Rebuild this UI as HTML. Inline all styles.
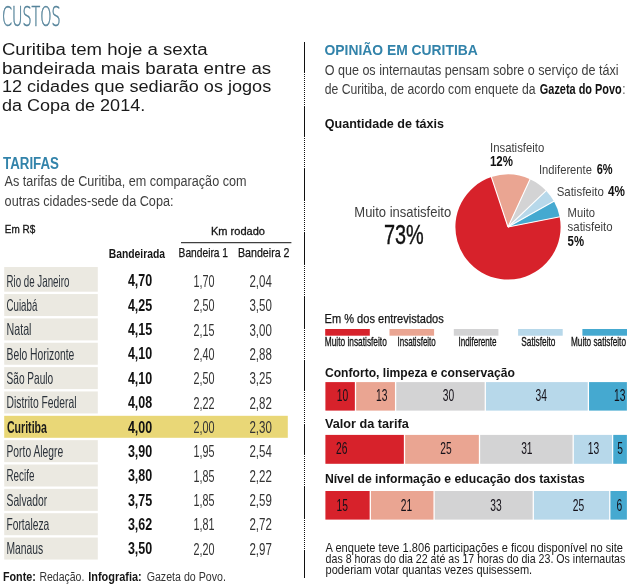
<!DOCTYPE html>
<html lang="pt-BR"><head><meta charset="utf-8"><title>Custos</title>
<style>
html,body{margin:0;padding:0;background:#fff;}
body{width:630px;height:586px;overflow:hidden;font-family:"Liberation Sans",sans-serif;}
svg{display:block;}
svg text{font-family:"Liberation Sans",sans-serif;white-space:pre;}
</style></head><body>
<svg width="630" height="586" viewBox="0 0 630 586">
<rect x="0" y="0" width="630" height="586" fill="#ffffff"/>
<text x="1.9" y="25.6" font-size="26.9" font-weight="200" fill="#55839a" stroke="#55839a" stroke-width="0.6" style="font-family:&quot;DejaVu Sans Light&quot;,&quot;DejaVu Sans&quot;,&quot;Liberation Sans&quot;,sans-serif" textLength="58.8" lengthAdjust="spacingAndGlyphs">CUSTOS</text>
<text x="1.90" y="55.00" font-size="16" font-weight="400" fill="#1a1a1a" textLength="205.60" lengthAdjust="spacingAndGlyphs">Curitiba tem hoje a sexta</text>
<text x="1.90" y="73.60" font-size="16" font-weight="400" fill="#1a1a1a" textLength="269.30" lengthAdjust="spacingAndGlyphs">bandeirada mais barata entre as</text>
<text x="1.90" y="92.20" font-size="16" font-weight="400" fill="#1a1a1a" textLength="269.30" lengthAdjust="spacingAndGlyphs">12 cidades que sediarão os jogos</text>
<text x="1.90" y="110.80" font-size="16" font-weight="400" fill="#1a1a1a" textLength="143.30" lengthAdjust="spacingAndGlyphs">da Copa de 2014.</text>
<line x1="304.5" y1="42" x2="304.5" y2="578" stroke="#111" stroke-width="1" stroke-dasharray="1 1"/>
<rect x="304.00" y="42.00" width="1.00" height="31.00" fill="#111"/>
<rect x="304.00" y="106.00" width="1.00" height="31.00" fill="#111"/>
<rect x="304.00" y="169.00" width="1.00" height="31.00" fill="#111"/>
<rect x="304.00" y="233.00" width="1.00" height="31.00" fill="#111"/>
<rect x="304.00" y="296.00" width="1.00" height="32.00" fill="#111"/>
<rect x="304.00" y="360.00" width="1.00" height="31.00" fill="#111"/>
<rect x="304.00" y="424.00" width="1.00" height="31.00" fill="#111"/>
<rect x="304.00" y="487.00" width="1.00" height="31.00" fill="#111"/>
<rect x="304.00" y="551.00" width="1.00" height="27.00" fill="#111"/>
<text x="3.00" y="169.00" font-size="15.6" font-weight="700" fill="#3283aa" textLength="56.00" lengthAdjust="spacingAndGlyphs">TARIFAS</text>
<text x="4.60" y="186.10" font-size="14" font-weight="400" fill="#3e3e3e" textLength="241.90" lengthAdjust="spacingAndGlyphs">As tarifas de Curitiba, em comparação com</text>
<text x="4.60" y="205.60" font-size="14" font-weight="400" fill="#3e3e3e" textLength="168.90" lengthAdjust="spacingAndGlyphs">outras cidades-sede da Copa:</text>
<text x="4.80" y="233.00" font-size="10.8" font-weight="400" fill="#151515" textLength="30.40" lengthAdjust="spacingAndGlyphs" stroke="#151515" stroke-width="0.3">Em R$</text>
<text x="211.00" y="234.60" font-size="10.8" font-weight="400" fill="#151515" textLength="54.00" lengthAdjust="spacingAndGlyphs" stroke="#151515" stroke-width="0.3">Km rodado</text>
<rect x="181.00" y="242.20" width="110.40" height="1.00" fill="#111"/>
<text x="108.70" y="258.00" font-size="12.2" font-weight="700" fill="#151515" textLength="56.40" lengthAdjust="spacingAndGlyphs">Bandeirada</text>
<text x="178.60" y="256.80" font-size="12.2" font-weight="400" fill="#151515" textLength="49.40" lengthAdjust="spacingAndGlyphs" stroke="#151515" stroke-width="0.25">Bandeira 1</text>
<text x="238.00" y="256.80" font-size="12.2" font-weight="400" fill="#151515" textLength="51.50" lengthAdjust="spacingAndGlyphs" stroke="#151515" stroke-width="0.25">Bandeira 2</text>
<rect x="4.20" y="267.00" width="93.60" height="24.70" fill="#ebe9e1"/>
<text x="6.50" y="286.60" font-size="16.5" font-weight="400" fill="#2b323a" textLength="62.80" lengthAdjust="spacingAndGlyphs">Rio de Janeiro</text>
<text x="127.90" y="286.40" font-size="16.5" font-weight="700" fill="#111" textLength="24.30" lengthAdjust="spacingAndGlyphs">4,70</text>
<text x="193.60" y="286.80" font-size="17" font-weight="400" fill="#333" textLength="21.00" lengthAdjust="spacingAndGlyphs">1,70</text>
<text x="249.40" y="286.80" font-size="17" font-weight="400" fill="#333" textLength="22.40" lengthAdjust="spacingAndGlyphs">2,04</text>
<rect x="4.20" y="294.05" width="93.60" height="22.00" fill="#ebe9e1"/>
<text x="6.50" y="310.95" font-size="16.5" font-weight="400" fill="#2b323a" textLength="30.80" lengthAdjust="spacingAndGlyphs">Cuiabá</text>
<text x="127.90" y="310.75" font-size="16.5" font-weight="700" fill="#111" textLength="24.30" lengthAdjust="spacingAndGlyphs">4,25</text>
<text x="193.60" y="311.15" font-size="17" font-weight="400" fill="#333" textLength="21.00" lengthAdjust="spacingAndGlyphs">2,50</text>
<text x="249.40" y="311.15" font-size="17" font-weight="400" fill="#333" textLength="22.40" lengthAdjust="spacingAndGlyphs">3,50</text>
<rect x="4.20" y="318.40" width="93.60" height="22.00" fill="#ebe9e1"/>
<text x="6.50" y="335.30" font-size="16.5" font-weight="400" fill="#2b323a" textLength="25.00" lengthAdjust="spacingAndGlyphs">Natal</text>
<text x="127.90" y="335.10" font-size="16.5" font-weight="700" fill="#111" textLength="24.30" lengthAdjust="spacingAndGlyphs">4,15</text>
<text x="193.60" y="335.50" font-size="17" font-weight="400" fill="#333" textLength="21.00" lengthAdjust="spacingAndGlyphs">2,15</text>
<text x="249.40" y="335.50" font-size="17" font-weight="400" fill="#333" textLength="22.40" lengthAdjust="spacingAndGlyphs">3,00</text>
<rect x="4.20" y="342.75" width="93.60" height="22.00" fill="#ebe9e1"/>
<text x="6.50" y="359.65" font-size="16.5" font-weight="400" fill="#2b323a" textLength="67.80" lengthAdjust="spacingAndGlyphs">Belo Horizonte</text>
<text x="127.90" y="359.45" font-size="16.5" font-weight="700" fill="#111" textLength="24.30" lengthAdjust="spacingAndGlyphs">4,10</text>
<text x="193.60" y="359.85" font-size="17" font-weight="400" fill="#333" textLength="21.00" lengthAdjust="spacingAndGlyphs">2,40</text>
<text x="249.40" y="359.85" font-size="17" font-weight="400" fill="#333" textLength="22.40" lengthAdjust="spacingAndGlyphs">2,88</text>
<rect x="4.20" y="367.10" width="93.60" height="22.00" fill="#ebe9e1"/>
<text x="6.50" y="384.00" font-size="16.5" font-weight="400" fill="#2b323a" textLength="46.70" lengthAdjust="spacingAndGlyphs">São Paulo</text>
<text x="127.90" y="383.80" font-size="16.5" font-weight="700" fill="#111" textLength="24.30" lengthAdjust="spacingAndGlyphs">4,10</text>
<text x="193.60" y="384.20" font-size="17" font-weight="400" fill="#333" textLength="21.00" lengthAdjust="spacingAndGlyphs">2,50</text>
<text x="249.40" y="384.20" font-size="17" font-weight="400" fill="#333" textLength="22.40" lengthAdjust="spacingAndGlyphs">3,25</text>
<rect x="4.20" y="391.45" width="93.60" height="22.00" fill="#ebe9e1"/>
<text x="6.50" y="408.35" font-size="16.5" font-weight="400" fill="#2b323a" textLength="70.00" lengthAdjust="spacingAndGlyphs">Distrito Federal</text>
<text x="127.90" y="408.15" font-size="16.5" font-weight="700" fill="#111" textLength="24.30" lengthAdjust="spacingAndGlyphs">4,08</text>
<text x="193.60" y="408.55" font-size="17" font-weight="400" fill="#333" textLength="21.00" lengthAdjust="spacingAndGlyphs">2,22</text>
<text x="249.40" y="408.55" font-size="17" font-weight="400" fill="#333" textLength="22.40" lengthAdjust="spacingAndGlyphs">2,82</text>
<rect x="4.20" y="415.80" width="283.60" height="22.00" fill="#e9d777"/>
<text x="6.90" y="432.70" font-size="16.5" font-weight="700" fill="#1a1a1a" textLength="40.10" lengthAdjust="spacingAndGlyphs">Curitiba</text>
<text x="127.90" y="432.50" font-size="16.5" font-weight="700" fill="#111" textLength="24.30" lengthAdjust="spacingAndGlyphs">4,00</text>
<text x="193.60" y="432.90" font-size="17" font-weight="400" fill="#333" textLength="21.00" lengthAdjust="spacingAndGlyphs">2,00</text>
<text x="249.40" y="432.90" font-size="17" font-weight="400" fill="#333" textLength="22.40" lengthAdjust="spacingAndGlyphs">2,30</text>
<rect x="4.20" y="440.15" width="93.60" height="22.00" fill="#ebe9e1"/>
<text x="6.50" y="457.05" font-size="16.5" font-weight="400" fill="#2b323a" textLength="56.70" lengthAdjust="spacingAndGlyphs">Porto Alegre</text>
<text x="127.90" y="456.85" font-size="16.5" font-weight="700" fill="#111" textLength="24.30" lengthAdjust="spacingAndGlyphs">3,90</text>
<text x="193.60" y="457.25" font-size="17" font-weight="400" fill="#333" textLength="21.00" lengthAdjust="spacingAndGlyphs">1,95</text>
<text x="249.40" y="457.25" font-size="17" font-weight="400" fill="#333" textLength="22.40" lengthAdjust="spacingAndGlyphs">2,54</text>
<rect x="4.20" y="464.50" width="93.60" height="22.00" fill="#ebe9e1"/>
<text x="6.50" y="481.40" font-size="16.5" font-weight="400" fill="#2b323a" textLength="27.90" lengthAdjust="spacingAndGlyphs">Recife</text>
<text x="127.90" y="481.20" font-size="16.5" font-weight="700" fill="#111" textLength="24.30" lengthAdjust="spacingAndGlyphs">3,80</text>
<text x="193.60" y="481.60" font-size="17" font-weight="400" fill="#333" textLength="21.00" lengthAdjust="spacingAndGlyphs">1,85</text>
<text x="249.40" y="481.60" font-size="17" font-weight="400" fill="#333" textLength="22.40" lengthAdjust="spacingAndGlyphs">2,22</text>
<rect x="4.20" y="488.85" width="93.60" height="22.00" fill="#ebe9e1"/>
<text x="6.50" y="505.75" font-size="16.5" font-weight="400" fill="#2b323a" textLength="40.70" lengthAdjust="spacingAndGlyphs">Salvador</text>
<text x="127.90" y="505.55" font-size="16.5" font-weight="700" fill="#111" textLength="24.30" lengthAdjust="spacingAndGlyphs">3,75</text>
<text x="193.60" y="505.95" font-size="17" font-weight="400" fill="#333" textLength="21.00" lengthAdjust="spacingAndGlyphs">1,85</text>
<text x="249.40" y="505.95" font-size="17" font-weight="400" fill="#333" textLength="22.40" lengthAdjust="spacingAndGlyphs">2,59</text>
<rect x="4.20" y="513.20" width="93.60" height="22.00" fill="#ebe9e1"/>
<text x="6.50" y="530.10" font-size="16.5" font-weight="400" fill="#2b323a" textLength="42.70" lengthAdjust="spacingAndGlyphs">Fortaleza</text>
<text x="127.90" y="529.90" font-size="16.5" font-weight="700" fill="#111" textLength="24.30" lengthAdjust="spacingAndGlyphs">3,62</text>
<text x="193.60" y="530.30" font-size="17" font-weight="400" fill="#333" textLength="21.00" lengthAdjust="spacingAndGlyphs">1,81</text>
<text x="249.40" y="530.30" font-size="17" font-weight="400" fill="#333" textLength="22.40" lengthAdjust="spacingAndGlyphs">2,72</text>
<rect x="4.20" y="537.55" width="93.60" height="22.00" fill="#ebe9e1"/>
<text x="6.50" y="554.45" font-size="16.5" font-weight="400" fill="#2b323a" textLength="36.70" lengthAdjust="spacingAndGlyphs">Manaus</text>
<text x="127.90" y="554.25" font-size="16.5" font-weight="700" fill="#111" textLength="24.30" lengthAdjust="spacingAndGlyphs">3,50</text>
<text x="193.60" y="554.65" font-size="17" font-weight="400" fill="#333" textLength="21.00" lengthAdjust="spacingAndGlyphs">2,20</text>
<text x="249.40" y="554.65" font-size="17" font-weight="400" fill="#333" textLength="22.40" lengthAdjust="spacingAndGlyphs">2,97</text>
<text x="2.90" y="580.60" font-size="12" font-weight="700" fill="#151515" textLength="32.90" lengthAdjust="spacingAndGlyphs">Fonte:</text>
<text x="39.40" y="580.60" font-size="12" font-weight="400" fill="#333" textLength="45.00" lengthAdjust="spacingAndGlyphs">Redação.</text>
<text x="88.20" y="580.60" font-size="12" font-weight="700" fill="#151515" textLength="53.50" lengthAdjust="spacingAndGlyphs">Infografia:</text>
<text x="146.70" y="580.60" font-size="12" font-weight="400" fill="#333" textLength="79.20" lengthAdjust="spacingAndGlyphs">Gazeta do Povo.</text>
<text x="324.60" y="55.20" font-size="15.4" font-weight="700" fill="#3283aa" textLength="153.20" lengthAdjust="spacingAndGlyphs">OPINIÃO EM CURITIBA</text>
<text x="324.70" y="74.70" font-size="14" font-weight="400" fill="#3e3e3e" textLength="293.90" lengthAdjust="spacingAndGlyphs">O que os internautas pensam sobre o serviço de táxi</text>
<text x="324.70" y="94.00" font-size="14" font-weight="400" fill="#3e3e3e" textLength="210.90" lengthAdjust="spacingAndGlyphs">de Curitiba, de acordo com enquete da</text>
<text x="539.80" y="94.00" font-size="14" font-weight="700" fill="#111" textLength="82.00" lengthAdjust="spacingAndGlyphs">Gazeta do Povo</text>
<text x="622.60" y="94.00" font-size="14" font-weight="400" fill="#3e3e3e" textLength="2.80" lengthAdjust="spacingAndGlyphs">:</text>
<text x="324.80" y="127.60" font-size="12.6" font-weight="700" fill="#151515" textLength="119.20" lengthAdjust="spacingAndGlyphs">Quantidade de táxis</text>
<path d="M508.00,227.00 L491.40,177.09 A52.6,52.6 0 0 1 530.06,179.25 Z" fill="#eaa592"/>
<path d="M508.00,227.00 L530.06,179.25 A52.6,52.6 0 0 1 546.09,190.73 Z" fill="#d3d3d4"/>
<path d="M508.00,227.00 L546.09,190.73 A52.6,52.6 0 0 1 553.92,201.34 Z" fill="#b7d8ea"/>
<path d="M508.00,227.00 L553.92,201.34 A52.6,52.6 0 0 1 559.60,216.78 Z" fill="#45a9d0"/>
<path d="M508.00,227.00 L559.60,216.78 A52.6,52.6 0 1 1 491.40,177.09 Z" fill="#d7222b"/>
<line x1="508.00" y1="227.00" x2="491.24" y2="176.61" stroke="#fff" stroke-width="1.1"/>
<line x1="508.00" y1="227.00" x2="530.27" y2="178.80" stroke="#fff" stroke-width="1.1"/>
<line x1="508.00" y1="227.00" x2="546.45" y2="190.38" stroke="#fff" stroke-width="1.1"/>
<line x1="508.00" y1="227.00" x2="554.35" y2="201.09" stroke="#fff" stroke-width="1.1"/>
<line x1="508.00" y1="227.00" x2="560.09" y2="216.69" stroke="#fff" stroke-width="1.1"/>
<text x="490.00" y="152.40" font-size="13" font-weight="400" fill="#3e3e3e" textLength="54.30" lengthAdjust="spacingAndGlyphs">Insatisfeito</text>
<text x="490.00" y="166.40" font-size="14.6" font-weight="700" fill="#111" textLength="22.90" lengthAdjust="spacingAndGlyphs">12%</text>
<text x="539.00" y="173.80" font-size="13" font-weight="400" fill="#3e3e3e" textLength="52.90" lengthAdjust="spacingAndGlyphs">Indiferente</text>
<text x="596.70" y="173.80" font-size="14.6" font-weight="700" fill="#111" textLength="15.90" lengthAdjust="spacingAndGlyphs">6%</text>
<text x="556.70" y="196.20" font-size="13" font-weight="400" fill="#3e3e3e" textLength="47.10" lengthAdjust="spacingAndGlyphs">Satisfeito</text>
<text x="607.90" y="196.20" font-size="14.6" font-weight="700" fill="#111" textLength="16.90" lengthAdjust="spacingAndGlyphs">4%</text>
<text x="567.60" y="217.10" font-size="13" font-weight="400" fill="#3e3e3e" textLength="27.40" lengthAdjust="spacingAndGlyphs">Muito</text>
<text x="567.60" y="230.60" font-size="13" font-weight="400" fill="#3e3e3e" textLength="45.00" lengthAdjust="spacingAndGlyphs">satisfeito</text>
<text x="567.60" y="245.70" font-size="14.6" font-weight="700" fill="#111" textLength="16.40" lengthAdjust="spacingAndGlyphs">5%</text>
<text x="354.30" y="216.90" font-size="14.2" font-weight="400" fill="#3e3e3e" textLength="96.90" lengthAdjust="spacingAndGlyphs">Muito insatisfeito</text>
<text x="384.00" y="243.90" font-size="28.5" font-weight="400" fill="#111" textLength="39.80" lengthAdjust="spacingAndGlyphs" stroke="#111" stroke-width="0.4">73%</text>
<text x="324.60" y="322.90" font-size="13.2" font-weight="400" fill="#151515" textLength="119.10" lengthAdjust="spacingAndGlyphs" stroke="#151515" stroke-width="0.25">Em % dos entrevistados</text>
<rect x="325.20" y="329.00" width="44.60" height="6.70" fill="#d7222b"/>
<text x="324.80" y="345.70" font-size="12.8" font-weight="400" fill="#111" textLength="62.00" lengthAdjust="spacingAndGlyphs" stroke="#111" stroke-width="0.3">Muito insatisfeito</text>
<rect x="389.50" y="329.00" width="44.60" height="6.70" fill="#eaa592"/>
<text x="397.50" y="345.70" font-size="12.8" font-weight="400" fill="#111" textLength="38.30" lengthAdjust="spacingAndGlyphs" stroke="#111" stroke-width="0.3">Insatisfeito</text>
<rect x="453.80" y="329.00" width="44.60" height="6.70" fill="#d3d3d4"/>
<text x="458.40" y="345.70" font-size="12.8" font-weight="400" fill="#111" textLength="38.20" lengthAdjust="spacingAndGlyphs" stroke="#111" stroke-width="0.3">Indiferente</text>
<rect x="518.10" y="329.00" width="44.60" height="6.70" fill="#b7d8ea"/>
<text x="521.30" y="345.70" font-size="12.8" font-weight="400" fill="#111" textLength="34.20" lengthAdjust="spacingAndGlyphs" stroke="#111" stroke-width="0.3">Satisfeito</text>
<rect x="582.40" y="329.00" width="44.60" height="6.70" fill="#45a9d0"/>
<text x="571.00" y="345.70" font-size="12.8" font-weight="400" fill="#111" textLength="55.00" lengthAdjust="spacingAndGlyphs" stroke="#111" stroke-width="0.3">Muito satisfeito</text>
<text x="324.90" y="376.90" font-size="12.6" font-weight="700" fill="#151515" textLength="190.10" lengthAdjust="spacingAndGlyphs">Conforto, limpeza e conservação</text>
<rect x="325.40" y="382.10" width="29.45" height="28.50" fill="#d7222b"/>
<rect x="356.15" y="382.10" width="38.80" height="28.50" fill="#eaa592"/>
<rect x="396.25" y="382.10" width="88.40" height="28.50" fill="#d3d3d4"/>
<rect x="485.95" y="382.10" width="101.80" height="28.50" fill="#b7d8ea"/>
<rect x="589.05" y="382.10" width="37.85" height="28.50" fill="#45a9d0"/>
<text x="336.75" y="401.00" font-size="16.8" font-weight="400" fill="#141018" textLength="11.40" lengthAdjust="spacingAndGlyphs">10</text>
<text x="376.10" y="401.00" font-size="16.8" font-weight="400" fill="#141018" textLength="11.40" lengthAdjust="spacingAndGlyphs">13</text>
<text x="442.75" y="401.00" font-size="16.8" font-weight="400" fill="#141018" textLength="11.40" lengthAdjust="spacingAndGlyphs">30</text>
<text x="535.50" y="401.00" font-size="16.8" font-weight="400" fill="#141018" textLength="11.40" lengthAdjust="spacingAndGlyphs">34</text>
<text x="614.00" y="401.00" font-size="16.8" font-weight="400" fill="#141018" textLength="11.40" lengthAdjust="spacingAndGlyphs">13</text>
<text x="324.90" y="427.80" font-size="12.6" font-weight="700" fill="#151515" textLength="83.90" lengthAdjust="spacingAndGlyphs">Valor da tarifa</text>
<rect x="325.40" y="434.90" width="78.45" height="28.90" fill="#d7222b"/>
<rect x="405.15" y="434.90" width="73.70" height="28.90" fill="#eaa592"/>
<rect x="480.15" y="434.90" width="92.40" height="28.90" fill="#d3d3d4"/>
<rect x="573.85" y="434.90" width="38.10" height="28.90" fill="#b7d8ea"/>
<rect x="613.25" y="434.90" width="13.65" height="28.90" fill="#45a9d0"/>
<text x="336.10" y="454.00" font-size="16.8" font-weight="400" fill="#141018" textLength="11.40" lengthAdjust="spacingAndGlyphs">26</text>
<text x="440.20" y="454.00" font-size="16.8" font-weight="400" fill="#141018" textLength="11.40" lengthAdjust="spacingAndGlyphs">25</text>
<text x="521.15" y="454.00" font-size="16.8" font-weight="400" fill="#141018" textLength="11.40" lengthAdjust="spacingAndGlyphs">31</text>
<text x="587.75" y="454.00" font-size="16.8" font-weight="400" fill="#141018" textLength="11.40" lengthAdjust="spacingAndGlyphs">13</text>
<text x="617.30" y="454.00" font-size="16.8" font-weight="400" fill="#141018" textLength="5.70" lengthAdjust="spacingAndGlyphs">5</text>
<text x="324.90" y="483.00" font-size="12.6" font-weight="700" fill="#151515" textLength="259.80" lengthAdjust="spacingAndGlyphs">Nível de informação e educação dos taxistas</text>
<rect x="325.40" y="491.00" width="44.25" height="28.60" fill="#d7222b"/>
<rect x="370.95" y="491.00" width="62.50" height="28.60" fill="#eaa592"/>
<rect x="434.75" y="491.00" width="97.90" height="28.60" fill="#d3d3d4"/>
<rect x="533.95" y="491.00" width="75.20" height="28.60" fill="#b7d8ea"/>
<rect x="610.45" y="491.00" width="16.45" height="28.60" fill="#45a9d0"/>
<text x="336.50" y="510.70" font-size="16.8" font-weight="400" fill="#141018" textLength="11.40" lengthAdjust="spacingAndGlyphs">15</text>
<text x="400.85" y="510.70" font-size="16.8" font-weight="400" fill="#141018" textLength="11.40" lengthAdjust="spacingAndGlyphs">21</text>
<text x="490.30" y="510.70" font-size="16.8" font-weight="400" fill="#141018" textLength="11.40" lengthAdjust="spacingAndGlyphs">33</text>
<text x="572.70" y="510.70" font-size="16.8" font-weight="400" fill="#141018" textLength="11.40" lengthAdjust="spacingAndGlyphs">25</text>
<text x="616.40" y="510.70" font-size="16.8" font-weight="400" fill="#141018" textLength="5.70" lengthAdjust="spacingAndGlyphs">6</text>
<text x="325.60" y="552.10" font-size="12.4" font-weight="400" fill="#1a1a1a" textLength="297.40" lengthAdjust="spacingAndGlyphs">A enquete teve 1.806 participações e ficou disponível no site</text>
<text x="325.60" y="563.20" font-size="12.4" font-weight="400" fill="#1a1a1a" textLength="299.70" lengthAdjust="spacingAndGlyphs">das 8 horas do dia 22 até as 17 horas do dia 23. Os internautas</text>
<text x="325.60" y="574.30" font-size="12.4" font-weight="400" fill="#1a1a1a" textLength="206.60" lengthAdjust="spacingAndGlyphs">poderiam votar quantas vezes quisessem.</text>
</svg>
</body></html>
